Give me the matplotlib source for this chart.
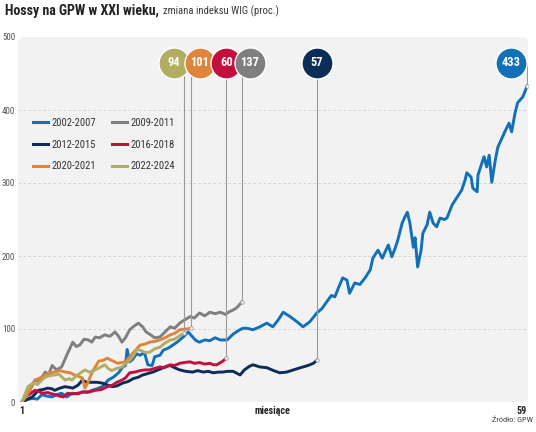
import matplotlib
matplotlib.use("Agg")
import matplotlib.pyplot as plt
from matplotlib import font_manager as fm
from matplotlib.patches import FancyBboxPatch

# --- data: months since start of each bull market, WIG change in % ---
x_0207 = [1.0, 1.5, 2.2, 2.8, 3.3, 3.9, 4.5, 5.0, 5.6, 6.2, 6.8, 7.5, 8.0, 8.6, 9.1, 9.7,
          10.3, 11.0, 11.6, 12.2, 12.7, 13.0, 13.2, 13.5, 13.8, 14.3, 14.7, 15.2, 15.6, 16.1,
          16.4, 17.0, 17.4, 18.0, 18.5, 19.0, 19.7, 20.3, 20.8, 21.2, 21.6, 22.2, 22.8, 23.4,
          24.0, 24.8, 25.5, 26.0, 26.6, 27.1, 27.8, 28.6, 29.4, 30.1, 30.7, 31.3, 32.1, 32.9,
          33.6, 34.4, 35.2, 35.8, 36.4, 36.9, 37.3, 37.7, 38.2, 38.7, 39.0, 39.6, 40.2, 40.8,
          41.4, 41.7, 42.3, 42.8, 43.1, 43.5, 43.9, 44.3, 44.6, 45.1, 45.4, 45.7, 46.0, 46.4,
          46.6, 46.9, 47.3, 47.5, 48.0, 48.3, 48.7, 49.1, 49.5, 50.0, 50.3, 50.9, 51.5, 52.0,
          52.4, 52.6, 53.1, 53.3, 53.8, 53.9, 54.4, 54.6, 54.9, 55.2, 55.5, 55.9, 56.2, 56.7,
          57.0, 57.5, 57.8, 58.2, 58.5, 59.1, 59.6]
y_0207 = [0, 3, 5, 4, 10, 8, 7, 10, 12, 7, 12, 11, 14, 13, 16, 18,
          21, 30, 34, 40, 48, 50, 72, 55, 58, 66, 64, 68, 51, 50,
          62, 64, 71, 74, 78, 82, 89, 96, 89, 84, 82, 85, 84, 88,
          85, 85, 93, 97, 101, 101, 99, 103, 108, 103, 112, 123, 117, 110,
          103, 110, 122, 128, 138, 146, 144, 156, 170, 167, 149, 163, 161, 170,
          181, 197, 208, 197, 205, 215, 199, 211, 222, 245, 253, 260, 245, 212,
          225, 185, 208, 231, 243, 260, 245, 240, 252, 250, 252, 270, 281, 290,
          304, 314, 308, 293, 288, 311, 329, 336, 322, 338, 301, 331, 349, 362,
          370, 382, 370, 396, 410, 418, 433]

x_0911 = [1.0, 1.5, 2.0, 2.5, 3.0, 3.7, 4.1, 4.5, 5.0, 5.6, 6.3, 6.9, 7.3, 7.7, 8.2, 8.7,
          9.1, 9.5, 10.0, 10.6, 11.2, 11.8, 12.2, 12.6, 13.0, 13.5, 14.0, 14.5, 15.0, 15.4,
          15.8, 16.4, 17.0, 17.6, 18.2, 18.7, 19.3, 19.8, 20.5, 21.0, 21.6, 22.2, 22.8, 23.4,
          24.0, 24.6, 25.1, 25.5, 25.9, 26.5]
y_0911 = [0, 8, 18, 30, 28, 41, 38, 50, 44, 48, 67, 82, 76, 78, 86, 85,
          82, 89, 88, 92, 90, 96, 90, 82, 88, 99, 104, 108, 103, 96,
          93, 88, 89, 96, 103, 101, 108, 112, 117, 115, 122, 118, 123, 121,
          123, 120, 124, 126, 129, 137]

x_1215 = [1.0, 1.5, 2.2, 2.9, 3.4, 4.0, 4.5, 4.8, 5.4, 6.0, 6.5, 6.9, 7.5, 8.0, 8.5, 9.1,
          9.7, 10.3, 11.0, 11.5, 12.0, 12.7, 13.3, 13.9, 14.5, 15.0, 15.6, 16.2, 16.8, 17.4,
          17.8, 18.2, 18.7, 19.3, 20.0, 20.8, 21.4, 22.0, 22.6, 23.2, 23.8, 24.3, 24.8, 25.5,
          26.3, 26.8, 27.4, 27.8, 28.6, 29.4, 30.2, 30.9, 31.7, 32.5, 33.3, 33.9, 34.4, 34.8,
          35.2]
y_1215 = [0, 3, 7, 16, 17, 19, 18, 16, 19, 21, 20, 19, 23, 30, 27, 27,
          27, 26, 23, 21, 22, 26, 28, 32, 34, 37, 39, 41, 44, 47,
          49, 50, 47, 44, 42, 41, 43, 41, 42, 40, 41, 41, 42, 42,
          37, 44, 49, 51, 48, 47, 43, 40, 41, 44, 47, 49, 51, 53,
          57]

x_1618 = [1.0, 1.4, 1.8, 2.5, 3.0, 3.4, 4.0, 4.5, 4.9, 5.4, 5.8, 6.3, 6.8, 7.5, 8.3, 8.9,
          9.5, 10.2, 10.9, 11.5, 12.0, 12.6, 13.0, 13.5, 14.1, 14.7, 15.3, 15.8, 16.4, 17.0,
          17.5, 18.2, 18.7, 19.3, 19.8, 20.5, 21.0, 21.6, 22.2, 22.8, 23.2, 23.6, 24.3, 24.7]
y_1618 = [0, 8, 10, 16, 14, 12, 13, 11, 10, 8, 7, 12, 11, 12, 14, 14,
          16, 17, 21, 23, 27, 30, 33, 40, 41, 43, 44, 44, 46, 48,
          47, 51, 50, 53, 54, 55, 53, 54, 52, 53, 51, 51, 56, 60]

x_2021 = [1.0, 1.5, 2.0, 2.5, 3.1, 3.7, 4.2, 4.8, 5.4, 6.0, 6.6, 7.1, 7.6, 8.0, 8.3, 8.6,
          8.9, 9.2, 9.5, 9.9, 10.4, 10.9, 11.4, 12.1, 12.5, 13.0, 13.5, 14.1, 14.7, 15.2,
          15.8, 16.4, 17.0, 17.6, 18.2, 18.7, 19.3, 20.1, 20.6]
y_2021 = [0, 8, 18, 30, 33, 37, 40, 41, 43, 41, 40, 37, 35, 33, 19, 25,
          34, 42, 48, 56, 57, 60, 57, 53, 54, 55, 62, 70, 78, 79,
          82, 83, 85, 88, 92, 94, 99, 100, 101]

x_2224 = [1.0, 1.4, 1.7, 2.3, 2.8, 3.3, 3.7, 4.2, 4.8, 5.3, 6.0, 6.5, 6.8, 7.3, 7.8, 8.3,
          8.8, 9.5, 10.0, 10.6, 11.0, 11.4, 12.0, 12.6, 13.0, 13.5, 13.9, 14.3, 14.7, 15.3,
          15.8, 16.4, 17.0, 17.5, 18.2, 18.7, 19.3, 19.8]
y_2224 = [0, 12, 21, 26, 24, 30, 34, 36, 37, 38, 30, 32, 30, 36, 40, 44,
          41, 44, 47, 51, 46, 43, 46, 48, 52, 57, 63, 72, 71, 68,
          68, 73, 75, 80, 85, 86, 91, 94]

labels = ["2002-2007", "2009-2011", "2012-2015", "2016-2018", "2020-2021", "2022-2024"]
xs = [x_0207, x_0911, x_1215, x_1618, x_2021, x_2224]
ys = [y_0207, y_0911, y_1215, y_1618, y_2021, y_2224]
colors = ["#1170b8", "#7f7f7f", "#0c2d57", "#c40f3e", "#e0843c", "#b2ad62"]
# horizontal shift of each value bubble from its end point, in pixels
bubble_dx = [-16, 8, 0, 0, 9, -10]

# --- font: prefer a condensed sans ---
avail = {f.name for f in fm.fontManager.ttflist}
font = None
for cand in ["Roboto Condensed", "Open Sans Condensed", "Liberation Sans Narrow",
             "Noto Sans Condensed", "DejaVu Sans Condensed"]:
    if cand in avail:
        font = cand
        break
if font:
    plt.rcParams["font.family"] = [font, "DejaVu Sans"]
else:
    plt.rcParams["font.family"] = ["DejaVu Sans"]
    plt.rcParams["font.stretch"] = "condensed"

W, H = 536, 432
fig = plt.figure(figsize=(W / 100, H / 100), dpi=100)
L, B, AW, AH = 18, 30, 510, 365
ax = fig.add_axes([L / W, B / H, AW / W, AH / H])
ax.set_xlim(0.54, 59.7)
ax.set_ylim(0, 500)
ax.patch.set_visible(False)
bg = FancyBboxPatch((L / W, B / H), AW / W, AH / H,
                    boxstyle="round,pad=0,rounding_size=0.011", mutation_aspect=W / H,
                    transform=fig.transFigure, facecolor="#f2f2f2", edgecolor="none", zorder=-1)
fig.patches.append(bg)
for s in ax.spines.values():
    s.set_visible(False)

for v in [100, 200, 300, 400]:
    ax.axhline(v, color="#cccccc", lw=0.6, ls=(0, (3, 3)), zorder=1)

handles = {}
for lab, x, y, c in zip(labels, xs, ys, colors):
    ln, = ax.plot(x, y, color=c, lw=2.1, solid_joinstyle="round", zorder=3, label=lab)
    handles[lab] = ln

# leader lines and value bubbles
px_per_month = AW / (59.7 - 0.54)
bubble_y = 465
order = sorted(range(len(labels)), key=lambda i: xs[i][-1] + bubble_dx[i] / px_per_month)
for k, i in enumerate(order):
    xe, ye = xs[i][-1], ys[i][-1]
    xb = xe + bubble_dx[i] / px_per_month
    ax.plot([xe, xe], [ye, bubble_y], color="#9a9a9a", lw=0.8, zorder=4)
    ax.plot(xe, ye, "o", ms=2.5, mfc="white", mec="#9a9a9a", mew=0.6, zorder=4)
    ax.scatter([xb], [bubble_y], s=500, color=colors[i], edgecolor="white",
               linewidth=1.0, zorder=6 + k, clip_on=False)
    ax.text(xb, bubble_y, f"{ys[i][-1]:.0f}", color="white", fontsize=9,
            fontweight="bold", ha="center", va="center", zorder=6 + k)

leg_order = ["2002-2007", "2012-2015", "2020-2021", "2009-2011", "2016-2018", "2022-2024"]
leg = ax.legend([handles[l] for l in leg_order], leg_order, ncol=2, frameon=False,
                loc="upper left", bbox_to_anchor=((33 - L) / AW, (402 - 118) / AH),
                borderaxespad=0, borderpad=0, fontsize=7.6, handlelength=1.45,
                handletextpad=0.3, columnspacing=1.5, labelspacing=1.1)
for t in leg.get_texts():
    t.set_color("#333333")
for h in leg.get_lines():
    h.set_linewidth(2.2)

ax.set_yticks(range(0, 501, 100))
ax.tick_params(axis="y", length=0, pad=2, labelsize=6.5, labelcolor="#555555")
ax.set_xticks([1, 30, 59], ["1", "miesiące", "59"])
ax.tick_params(axis="x", length=0, pad=3, labelsize=7.2, labelcolor="#222222")
for t in ax.get_xticklabels():
    t.set_fontweight("bold")

t1 = fig.text(5 / W, 1 - 11 / H, "Hossy na GPW w XXI wieku,", fontsize=10,
              fontweight="bold", va="center", color="#222222")
renderer = fig.canvas.get_renderer()
bb = t1.get_window_extent(renderer)
fig.text((bb.x1 + 4) / W, 1 - 11 / H, "zmiana indeksu WIG (proc.)", fontsize=7.7,
         va="center", color="#3a3a3a")
fig.text(533 / W, 1 - 420 / H, "Źródło: GPW", ha="right", va="center",
         fontsize=6, color="#444444")

fig.savefig("out.png", dpi=100)
